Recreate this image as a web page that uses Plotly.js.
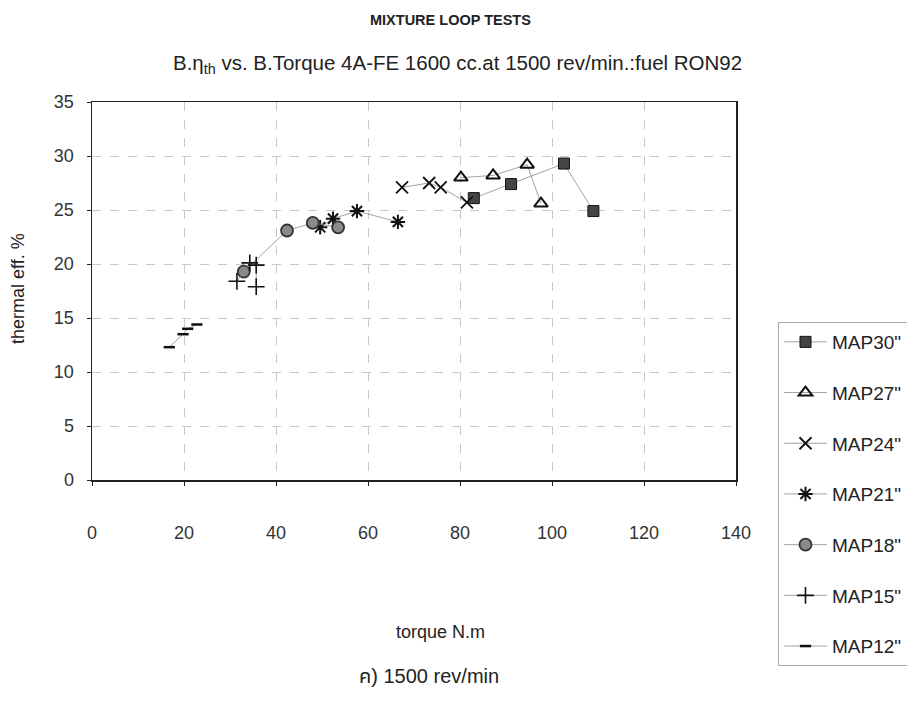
<!DOCTYPE html>
<html>
<head>
<meta charset="utf-8">
<script src="https://cdn.plot.ly/plotly-3.0.1.min.js"></script>
<style>html,body{margin:0;padding:0;background:#fff;}#chart{width:907px;height:709px;}</style>
</head>
<body>
<div id="chart"></div>
<script>
// Data (torque N.m, thermal eff. %)
const map30X = [83.0, 91.1, 102.6, 109.0];
const map30Y = [26.1, 27.4, 29.3, 24.9];
const map27X = [80.2, 87.2, 94.6, 97.6];
const map27Y = [28.0, 28.2, 29.2, 25.6];
const map24X = [67.4, 73.3, 75.8, 81.5];
const map24Y = [27.1, 27.5, 27.1, 25.7];
const map21X = [49.6, 52.4, 57.6, 66.5];
const map21Y = [23.4, 24.2, 24.9, 23.9];
const map18X = [33.0, 42.4, 48.0, 53.5];
const map18Y = [19.3, 23.1, 23.8, 23.4];
const map15X = [31.5, 34.3, 35.7, 35.7];
const map15Y = [18.4, 20.1, 19.9, 17.9];
const map12X = [16.8, 19.8, 20.8, 22.8];
const map12Y = [12.3, 13.5, 14.0, 14.4];
const seriesNames = ['MAP30"', 'MAP27"', 'MAP24"', 'MAP21"', 'MAP18"', 'MAP15"', 'MAP12"'];
const xTicks = [0, 20, 40, 60, 80, 100, 120, 140];
const yTicks = [0, 5, 10, 15, 20, 25, 30, 35];

const FONT = 'Liberation Sans, Arial, sans-serif';
const lineStyle = {color: '#8a8a8a', width: 0.8};

function tr(x, y, name, marker, i) {
  return {x: x, y: y, name: name, type: 'scatter', mode: 'lines+markers',
    line: lineStyle, marker: marker, legendgroup: 'g' + i};
}

const traces = [
  tr(map30X, map30Y, seriesNames[0], {symbol: 'square', size: 11, color: '#444', line: {color: '#111', width: 1}}, 0),
  tr(map27X, map27Y, seriesNames[1], {symbol: 'triangle-up-open', size: 12, color: '#111', line: {color: '#111', width: 2}}, 1),
  tr(map24X, map24Y, seriesNames[2], {symbol: 'x-thin-open', size: 12, color: '#111', line: {color: '#111', width: 1.8}}, 2),
  tr(map21X, map21Y, seriesNames[3], {symbol: 'asterisk-open', size: 12, color: '#111', line: {color: '#111', width: 2}}, 3),
  tr(map18X, map18Y, seriesNames[4], {symbol: 'circle', size: 12, color: '#8a8a8a', line: {color: '#333', width: 1.8}}, 4),
  tr(map15X, map15Y, seriesNames[5], {symbol: 'cross-thin-open', size: 12, color: '#111', line: {color: '#111', width: 1.6}}, 5),
  tr(map12X, map12Y, seriesNames[6], {symbol: 'line-ew-open', size: 8, color: '#111', line: {color: '#111', width: 2.5}}, 6)
];

const PH = 378; // plot height in px
const layout = {
  width: 907, height: 709,
  paper_bgcolor: '#fff', plot_bgcolor: '#fff',
  margin: {l: 92, r: 171, t: 102, b: 229, autoexpand: false},
  font: {family: FONT, color: '#222', size: 14},
  showlegend: true,
  legend: {
    xref: 'container', yref: 'container',
    x: 778 / 907, xanchor: 'left', y: 1 - 322 / 709, yanchor: 'top',
    bordercolor: '#aaa', borderwidth: 1, bgcolor: '#fff',
    font: {family: FONT, size: 19, color: '#222'},
    tracegroupgap: 23, itemwidth: 43
  },
  xaxis: {
    range: [0, 140], tickvals: xTicks, ticktext: xTicks.map(String),
    showline: true, linecolor: '#222', linewidth: 1.5, mirror: true,
    ticks: 'outside', ticklen: 4, tickcolor: '#222',
    showgrid: true, gridcolor: '#c8c8c8', griddash: 'dash', gridwidth: 1,
    zeroline: false, ticklabelstandoff: 32,
    tickfont: {family: FONT, size: 18, color: '#333'}
  },
  yaxis: {
    range: [0, 35], tickvals: yTicks, ticktext: yTicks.map(String),
    showline: true, linecolor: '#222', linewidth: 1.5, mirror: true,
    ticks: 'outside', ticklen: 4, tickcolor: '#222',
    showgrid: true, gridcolor: '#c8c8c8', griddash: 'dash', gridwidth: 1,
    zeroline: false, ticklabelstandoff: 9,
    tickfont: {family: FONT, size: 18, color: '#333'}
  },
  annotations: [
    {text: '<b>MIXTURE LOOP TESTS</b>', xref: 'paper', yref: 'paper', x: (450 - 92) / 644, y: 1.0 + (102 - 20) / PH,
      xanchor: 'center', yanchor: 'middle', showarrow: false, font: {family: FONT, size: 14.5, color: '#222'}},
    {text: 'B.η<sub>th</sub> vs. B.Torque 4A-FE 1600 cc.at 1500 rev/min.:fuel RON92', xref: 'paper', yref: 'paper',
      x: (457 - 92) / 644, y: 1.0 + (102 - 64) / PH, xanchor: 'center', yanchor: 'middle', showarrow: false,
      font: {family: FONT, size: 20.5, color: '#222'}},
    {text: 'thermal eff. %', xref: 'paper', yref: 'paper', x: (18 - 92) / 644, y: (480 - 289) / PH,
      xanchor: 'center', yanchor: 'middle', textangle: -90, showarrow: false,
      font: {family: FONT, size: 18, color: '#222'}},
    {text: 'torque N.m', xref: 'paper', yref: 'paper', x: (440 - 92) / 644, y: -(632 - 480) / PH,
      xanchor: 'center', yanchor: 'middle', showarrow: false, font: {family: FONT, size: 18, color: '#222'}},
    {text: 'ค) 1500 rev/min', xref: 'paper', yref: 'paper', x: (429 - 92) / 644, y: -(676 - 480) / PH,
      xanchor: 'center', yanchor: 'middle', showarrow: false, font: {family: FONT + ', Noto Sans Thai, Noto Sans', size: 20, color: '#222'}}
  ]
};

Plotly.newPlot('chart', traces, layout, {displayModeBar: false, staticPlot: true});
</script>
</body>
</html>
